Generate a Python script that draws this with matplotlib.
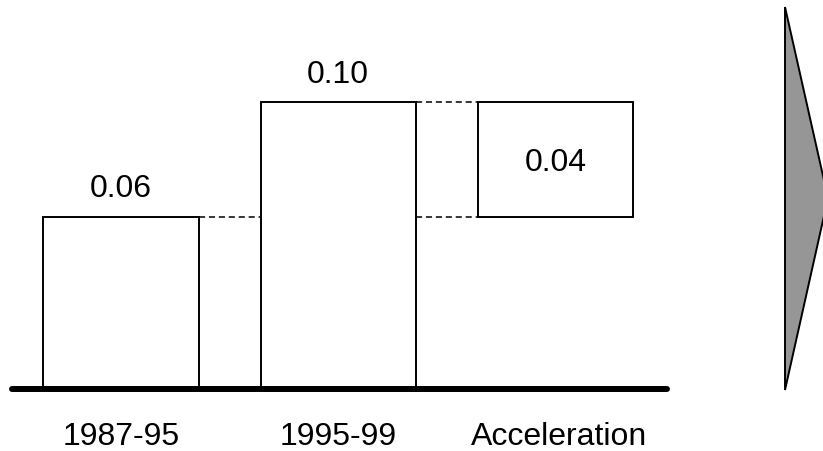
import matplotlib
matplotlib.use("Agg")
import matplotlib.pyplot as plt
from matplotlib.patches import Polygon

plt.rcParams["font.family"] = ["Liberation Sans", "DejaVu Sans"]

# data
categories = ["1987-95", "1995-99", "Acceleration"]
period_values = [0.06, 0.10]
labels = ["0.06", "0.10", "0.04"]

W, H = 8.23, 4.51
fig = plt.figure(figsize=(W, H), dpi=100)
ax = fig.add_axes([0, 0, 1, 1])
ax.set_axis_off()

# pixel-matched scales: bar spacing 217.25 px, 2870 px per unit
ax.set_xlim(-121 / 217.25, (823 - 121) / 217.25)
ax.set_ylim(-(451 - 389) / 2870, 389 / 2870)

bw = 155 / 217.25
v1, v2 = period_values
accel = v2 - v1
fs = 23

ax.bar([0, 1], period_values, width=bw, color="white", edgecolor="black", linewidth=1.4, zorder=2)
ax.bar([2], [accel], bottom=[v1], width=bw, color="white", edgecolor="black", linewidth=1.4, zorder=2)

dash = (0, (4, 2.5))
ax.plot([bw / 2, 1 - bw / 2], [v1, v1], color="black", lw=1.1, ls=dash)
ax.plot([1 + bw / 2, 2 - bw / 2], [v1, v1], color="black", lw=1.1, ls=dash)
ax.plot([1 + bw / 2, 2 - bw / 2], [v2, v2], color="black", lw=1.1, ls=dash)

# baseline
ax.axhline(0, xmin=12 / 823, xmax=667 / 823, color="black", lw=4.3, solid_capstyle="round", zorder=3)

# value labels
for i, v in enumerate(period_values):
    ax.annotate(labels[i], (i, v), xytext=(0, 14), textcoords="offset points",
                ha="center", va="baseline", fontsize=fs)
ax.text(2, v1 + accel / 2, labels[2], ha="center", va="center_baseline", fontsize=fs)

# category labels
for i, c in enumerate(categories):
    ax.text(i + (0.015 if i == 2 else 0), -(445 - 389) / 2870, c,
            ha="center", va="baseline", fontsize=fs)

# arrow on the right
arrow = Polygon([[785 / 823, 1 - 7 / 451], [828 / 823, 1 - 198 / 451], [785 / 823, 1 - 390 / 451]],
                closed=True, transform=ax.transAxes, facecolor="#969696", edgecolor="black",
                linewidth=1.4, clip_on=False)
ax.add_patch(arrow)

fig.savefig("out.png", dpi=100)
